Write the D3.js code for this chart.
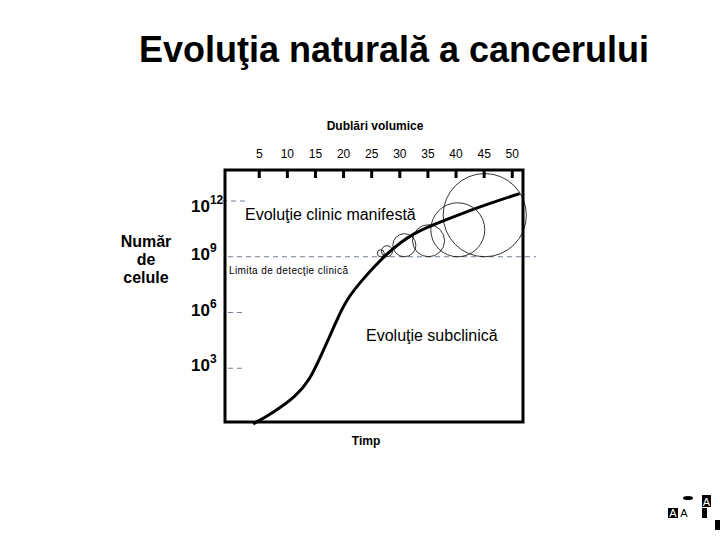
<!DOCTYPE html>
<html>
<head>
<meta charset="utf-8">
<script src="https://cdn.jsdelivr.net/npm/d3@7"></script>
<style>
  body { margin: 0; background: #fff; }
  text { font-family: "Liberation Sans", Arial, sans-serif; }
</style>
</head>
<body>
<svg id="chart" width="720" height="540"></svg>
<script>
// doublings along the top axis
var doublingTicks = [5, 10, 15, 20, 25, 30, 35, 40, 45, 50];
// log10 of the number of cells shown on the left
var cellExponents = [3, 6, 9, 12];
// growth curve: time in volume doublings, log10 cells
var curveDoublings = [4.0, 7.5, 11.7, 14.1, 15.8, 17.6, 18.9, 20.6, 23.5, 27.8, 32.4, 38.4, 44.3, 51.4];
var curveLog = [0.0, 0.6, 1.5, 2.4, 3.5, 4.7, 5.6, 6.7, 7.8, 9.2, 10.3, 11.0, 11.7, 12.4];
// tumour circles sitting on the detection limit (centre and radius in doublings)
var circleDoublings = [26.7, 27.8, 30.9, 35.2, 40.4, 45.2];
var circleRadius = [0.62, 0.98, 2.05, 2.85, 4.8, 7.4];
var detectionLog = 9;

var svg = d3.select("#chart");
var plotL = 225, plotR = 523, plotT = 170, plotB = 422;

var x = d3.scaleLinear().domain([-1, 52]).range([plotL, plotR]);
var y = d3.scaleLinear().domain([0, 12]).range([424, 201]);
var unit = x(1) - x(0);

// title
svg.append("text")
  .attr("x", 394).attr("y", 62)
  .attr("text-anchor", "middle")
  .style("font-size", "36px").style("font-weight", "bold")
  .text("Evoluţia naturală a cancerului");

// top axis label
svg.append("text")
  .attr("x", 375).attr("y", 130)
  .attr("text-anchor", "middle")
  .style("font-size", "12px").style("font-weight", "bold")
  .text("Dublări volumice");

// top axis
var axis = svg.append("g")
  .attr("transform", "translate(0," + plotT + ")")
  .call(d3.axisTop(x).tickValues(doublingTicks).tickSizeInner(-8).tickSizeOuter(0).tickPadding(12));
axis.select(".domain").remove();
axis.selectAll(".tick line").attr("stroke", "#000").attr("stroke-width", 3);
axis.selectAll(".tick text")
  .style("font-family", "'Liberation Sans', Arial, sans-serif")
  .style("font-size", "12px").attr("fill", "#000");

// dashed level marks
svg.selectAll("line.level")
  .data(cellExponents)
  .enter().append("line")
  .attr("class", "level")
  .attr("x1", function(d) { return d == 12 ? 222 : 228; })
  .attr("x2", function(d) { return d == detectionLog ? 536 : 246; })
  .attr("y1", function(d) { return y(d); })
  .attr("y2", function(d) { return y(d); })
  .attr("stroke", "#6d8296")
  .attr("stroke-width", 1)
  .attr("stroke-dasharray", "5,4");

// level labels 10^n
var lab = svg.selectAll("text.level")
  .data(cellExponents)
  .enter().append("text")
  .attr("class", "level")
  .attr("x", 191)
  .attr("y", function(d) { return d == 12 ? y(d) + 11 : y(d) + 3; })
  .style("font-size", "17px").style("font-weight", "bold");
lab.append("tspan").text("10");
lab.append("tspan").attr("dy", -8).style("font-size", "12px")
  .text(function(d) { return d; });

// y label
svg.append("text")
  .attr("x", 146).attr("y", 247)
  .attr("text-anchor", "middle")
  .style("font-size", "16px").style("font-weight", "bold")
  .selectAll("tspan")
  .data(["Număr", "de", "celule"])
  .enter().append("tspan")
  .attr("x", 146)
  .attr("dy", function(d, i) { return i ? 18 : 0; })
  .text(function(d) { return d; });

// circles
svg.selectAll("circle.tumour")
  .data(circleDoublings)
  .enter().append("circle")
  .attr("class", "tumour")
  .attr("cx", function(d) { return x(d); })
  .attr("cy", function(d, i) { return y(detectionLog) - circleRadius[i] * unit; })
  .attr("r", function(d, i) { return circleRadius[i] * unit; })
  .attr("fill", "none")
  .attr("stroke", "#000")
  .attr("stroke-width", 0.8);

// growth curve
var pts = curveDoublings.map(function(d, i) { return [d, curveLog[i]]; });
svg.append("path")
  .attr("d", d3.line().x(function(d) { return x(d[0]); }).y(function(d) { return y(d[1]); })
    .curve(d3.curveBasis)(pts))
  .attr("fill", "none")
  .attr("stroke", "#000")
  .attr("stroke-width", 3);

// frame
svg.append("path")
  .attr("d", "M" + plotL + "," + plotT + "H" + plotR + "V" + plotB + "H" + plotL + "Z")
  .attr("fill", "none")
  .attr("stroke", "#000")
  .attr("stroke-width", 3);

// annotations
svg.append("text")
  .attr("x", 245).attr("y", 220)
  .style("font-size", "16px")
  .text("Evoluţie clinic manifestă");
svg.append("text")
  .attr("x", 229).attr("y", 274)
  .style("font-size", "10px").style("letter-spacing", "0.4px")
  .text("Limita de detecţie clinică");
svg.append("text")
  .attr("x", 366).attr("y", 341)
  .style("font-size", "16px")
  .text("Evoluţie subclinică");
svg.append("text")
  .attr("x", 366).attr("y", 445)
  .attr("text-anchor", "middle")
  .style("font-size", "12px").style("font-weight", "bold")
  .text("Timp");

// small logo in the corner
var logo = svg.append("g");
logo.append("ellipse").attr("cx", 688).attr("cy", 498).attr("rx", 5).attr("ry", 2).attr("fill", "#000");
[[702, 495, 9, 12], [668, 508, 10, 10], [702, 508, 5, 10], [715, 520, 5, 10]].forEach(function(b) {
  logo.append("rect").attr("x", b[0]).attr("y", b[1]).attr("width", b[2]).attr("height", b[3]).attr("fill", "#000");
});
[[706.5, 506, "#fff"], [673, 517, "#fff"], [684, 517, "#000"]].forEach(function(t) {
  logo.append("text").attr("x", t[0]).attr("y", t[1]).attr("text-anchor", "middle")
    .style("font-size", "11px").attr("fill", t[2]).text("A");
});
</script>
</body>
</html>
